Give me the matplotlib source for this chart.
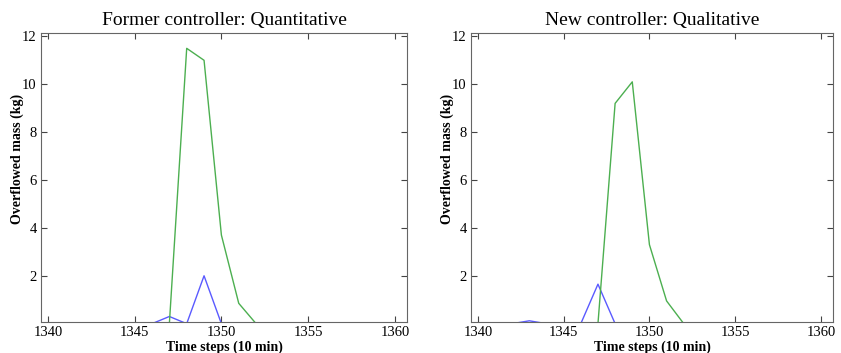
import numpy as np
import matplotlib.pyplot as plt

plt.rcParams['font.family'] = ['Liberation Serif', 'DejaVu Serif']

# time steps (10 min)
steps = np.arange(1340, 1361)

# overflowed mass (kg), zero outside the event
former_blue = np.zeros(len(steps))
former_blue[[7, 9]] = [0.3, 2.0]
former_green = np.zeros(len(steps))
former_green[8:12] = [11.5, 11.0, 3.7, 0.85]

new_blue = np.zeros(len(steps))
new_blue[[3, 7]] = [0.12, 1.65]
new_green = np.zeros(len(steps))
new_green[8:12] = [9.2, 10.1, 3.3, 0.95]

titles = ["Former controller: Quantitative", "New controller: Qualitative"]
series = [(former_blue, former_green), (new_blue, new_green)]

fig = plt.figure(figsize=(8.41, 3.53), dpi=100)
rects = [[41/841, 31/353, 366/841, 289/353],
         [471/841, 31/353, 362/841, 289/353]]

for rect, title, (blue, green) in zip(rects, titles, series):
    ax = fig.add_axes(rect)
    ax.plot(steps, blue, color='#5a5aff', lw=1.0)
    ax.plot(steps, green, color='#4caf50', lw=1.0)
    ax.set_xlim(1339.6, 1360.7)
    ax.set_ylim(0.07, 12.14)
    ax.set_xticks([1340, 1345, 1350, 1355, 1360])
    ax.set_yticks([2, 4, 6, 8, 10, 12])
    ax.tick_params(direction='in', top=True, right=True, length=4,
                   labelsize=10.5, color='#444444', pad=3)
    for s in ax.spines.values():
        s.set_color('#666666')
    ax.set_title(title, fontsize=14, pad=6)
    ax.set_xlabel("Time steps (10 min)", fontsize=10, fontweight='bold', labelpad=1)
    ax.set_ylabel("Overflowed mass (kg)", fontsize=10, fontweight='bold')
    ax.yaxis.set_label_coords(-0.047, 0.565)

fig.savefig("out.png", dpi=100)
